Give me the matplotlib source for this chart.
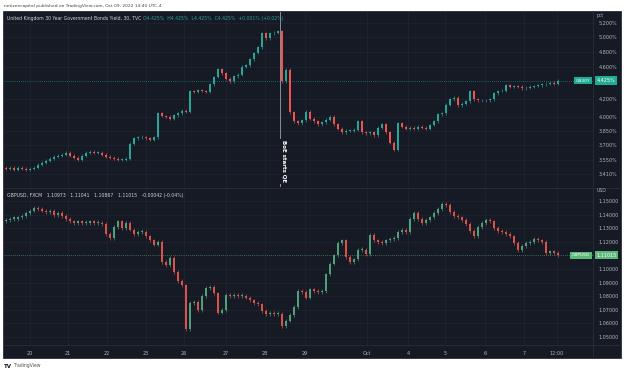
import numpy as np
import matplotlib.pyplot as plt
import matplotlib.transforms as mtransforms
from matplotlib.patches import Rectangle
from matplotlib.lines import Line2D
from matplotlib.ticker import FixedLocator, NullLocator, FuncFormatter

# UK 30Y gilt yield, 30 min candles (closes, % ) sampled across the chart
gilt_first_open = 3.47
gilt_close = [
    3.46, 3.47, 3.45, 3.47, 3.46, 3.45, 3.46, 3.47, 3.50, 3.52,
    3.54, 3.56, 3.58, 3.59, 3.60, 3.62, 3.59, 3.57, 3.55, 3.59,
    3.62, 3.63, 3.62, 3.62, 3.60, 3.58, 3.57, 3.56, 3.55, 3.55,
    3.56, 3.71, 3.77, 3.78, 3.78, 3.77, 3.75, 3.78, 4.04, 4.01,
    4.00, 3.98, 4.02, 4.04, 4.07, 4.06, 4.30, 4.29, 4.31, 4.30,
    4.29, 4.38, 4.47, 4.57, 4.52, 4.45, 4.42, 4.48, 4.50, 4.60,
    4.62, 4.70, 4.78, 4.86, 5.05, 4.98, 5.05, 5.06, 5.08, 4.42,
    4.56, 4.05, 3.95, 3.93, 3.96, 4.06, 3.98, 3.95, 3.92, 3.94,
    3.97, 4.00, 3.92, 3.87, 3.83, 3.85, 3.85, 3.86, 3.95, 3.83,
    3.82, 3.83, 3.80, 3.88, 3.92, 3.83, 3.72, 3.65, 3.93, 3.89,
    3.87, 3.88, 3.87, 3.89, 3.88, 3.87, 3.91, 3.95, 4.03, 4.04,
    4.14, 4.20, 4.22, 4.13, 4.15, 4.18, 4.30, 4.20, 4.19, 4.19,
    4.19, 4.20, 4.27, 4.30, 4.30, 4.37, 4.35, 4.36, 4.35, 4.33,
    4.34, 4.35, 4.36, 4.37, 4.38, 4.39, 4.40, 4.39, 4.425,
]

# GBPUSD, FXCM closes on the same bars
cable_first_open = 1.1355
cable_close = [
    1.136, 1.137, 1.137, 1.138, 1.139, 1.141, 1.143, 1.145, 1.144, 1.143,
    1.142, 1.143, 1.140, 1.141, 1.139, 1.137, 1.135, 1.134, 1.135, 1.134,
    1.134, 1.135, 1.134, 1.134, 1.133, 1.126, 1.123, 1.131, 1.135, 1.130,
    1.134, 1.129, 1.126, 1.127, 1.127, 1.124, 1.121, 1.118, 1.120, 1.105,
    1.103, 1.108, 1.098, 1.091, 1.088, 1.056, 1.075, 1.076, 1.070, 1.080,
    1.086, 1.087, 1.082, 1.068, 1.070, 1.081, 1.080, 1.081, 1.080, 1.080,
    1.079, 1.077, 1.075, 1.074, 1.069, 1.067, 1.068, 1.067, 1.067, 1.058,
    1.062, 1.066, 1.072, 1.084, 1.083, 1.079, 1.085, 1.084, 1.083, 1.084,
    1.096, 1.104, 1.110, 1.119, 1.121, 1.109, 1.105, 1.107, 1.114, 1.114,
    1.111, 1.125, 1.121, 1.120, 1.119, 1.121, 1.122, 1.123, 1.127, 1.129,
    1.127, 1.137, 1.141, 1.137, 1.134, 1.136, 1.138, 1.141, 1.144, 1.148,
    1.147, 1.142, 1.139, 1.138, 1.136, 1.133, 1.128, 1.124, 1.131, 1.134,
    1.136, 1.135, 1.130, 1.128, 1.127, 1.126, 1.124, 1.119, 1.114, 1.117,
    1.119, 1.120, 1.122, 1.121, 1.120, 1.112, 1.113, 1.112, 1.11015,
]

gilt_ticks = [5.2, 5.0, 4.8, 4.6, 4.2, 4.0, 3.85, 3.7, 3.55, 3.41]
cable_ticks = [1.15, 1.14, 1.13, 1.12, 1.10, 1.09, 1.08, 1.07, 1.06, 1.05]
day_labels = ['20', '21', '22', '23', '26', '27', '28', '29', 'Oct', '4', '5', '6', '7', '12:00']
day_bars = [6, 15.5, 25.25, 35, 44.5, 55, 64.75, 74.75, 90.25, 100.5, 109.75, 119.75, 129.5, 137.75]
qe_bar = 68.5

BG = '#161a25'
GRID = '#212532'
SEP = '#2a2e39'
TXT = '#b2b5be'
UP, DOWN = '#26a69a', '#ef5350'
UP2, DOWN2 = '#4f9f7c', '#d9534a'

W, H = 624, 373


def box(x0, y0, x1, y1):
    return [x0 / W, 1 - y1 / H, (x1 - x0) / W, (y1 - y0) / H]


def candles(ax, first_open, close, up, down, wick):
    close = np.asarray(close, dtype=float)
    open_ = np.r_[first_open, close[:-1]]
    x = np.arange(len(close))
    colors = np.where(close >= open_, up, down)
    lo = np.minimum(open_, close)
    hi = np.maximum(np.maximum(open_, close), lo * 1.0008)
    ax.vlines(x, lo * (1 - wick), hi * (1 + wick), colors=colors, lw=0.45, zorder=3)
    ax.bar(x, hi - lo, bottom=lo, width=0.58, color=colors, linewidth=0, zorder=4)


def style(ax, ticks, fmt, ylim, log=False):
    ax.set_facecolor(BG)
    for s in ax.spines.values():
        s.set_visible(False)
    if log:
        ax.set_yscale('log')
    ax.set_ylim(*ylim)
    ax.set_xlim(-0.5, 146.75)
    ax.yaxis.set_major_locator(FixedLocator(ticks))
    ax.yaxis.set_minor_locator(NullLocator())
    ax.yaxis.set_major_formatter(FuncFormatter(lambda v, p: fmt.format(v)))
    ax.yaxis.tick_right()
    ax.tick_params(axis='y', length=0, pad=4, labelsize=3.5, labelcolor=TXT)
    ax.set_xticks(day_bars)
    ax.tick_params(axis='x', length=0, labelbottom=False)
    ax.grid(True, color=GRID, lw=0.5, zorder=0)


def last_price(ax, value, text, name, color):
    tr = mtransforms.blended_transform_factory(ax.transAxes, ax.transData)
    ax.axhline(value, color=color, lw=0.5, ls=(0, (1, 2)), zorder=2)
    ax.text(1.006, value, text, transform=tr, ha='left', va='center', fontsize=3.5,
            color='white', clip_on=False, zorder=6,
            bbox=dict(boxstyle='square,pad=0.35', fc=color, ec='none'))
    ax.text(0.995, value, name, transform=tr, ha='right', va='center', fontsize=3.2,
            color='white', zorder=6,
            bbox=dict(boxstyle='square,pad=0.35', fc=color, ec='none'))


fig = plt.figure(figsize=(W / 100, H / 100), dpi=100)
fig.patch.set_facecolor('white')
fig.add_artist(Rectangle((3 / W, 1 - 358 / H), 618 / W, 347 / H, transform=fig.transFigure,
                         fc=BG, ec=SEP, lw=0.6, zorder=-10))

ax1 = fig.add_axes(box(4, 12, 593, 187))
ax2 = fig.add_axes(box(4, 188, 593, 345))

style(ax1, gilt_ticks, '{:.3f}%', (3.289, 5.36), log=True)
style(ax2, cable_ticks, '{:.5f}', (1.0441, 1.1596))
ax2.set_xticklabels(day_labels)
ax2.tick_params(axis='x', labelbottom=True, labelsize=3.5, labelcolor=TXT, pad=4)

candles(ax1, gilt_first_open, gilt_close, UP, DOWN, 0.004)
candles(ax2, cable_first_open, cable_close, UP2, DOWN2, 0.0012)

last_price(ax1, gilt_close[-1], '{:.3f}%'.format(gilt_close[-1]), 'GB30Y', '#22ab94')
last_price(ax2, cable_close[-1], '{:.5f}'.format(cable_close[-1]), 'GBPUSD', '#5cb87a')

# BoE event marker
ax1.axvline(qe_bar, color='#8a8e99', lw=0.7, zorder=5)
ax1.text(qe_bar + 0.9, 3.33, 'BoE starts QE', rotation=270, ha='center', va='bottom',
         fontsize=4, fontweight='bold', color='white', zorder=7,
         bbox=dict(boxstyle='square,pad=0.2', fc=BG, ec='none'))

# pane separators
for xs, ys in [((3, 621), (187.5, 187.5)), ((3, 621), (345, 345)), ((593, 593), (11, 358))]:
    fig.add_artist(Line2D([x / W for x in xs], [1 - y / H for y in ys], color=SEP, lw=0.6))

# legends
ax1.text(0.005, 0.975, 'United Kingdom 30 Year Government Bonds Yield, 30, TVC', transform=ax1.transAxes,
         fontsize=3.3, color='#d1d4dc', va='top', ha='left')
ax1.text(0.236, 0.975, 'O4.425%  H4.425%  L4.425%  C4.425%  +0.001% (+0.02%)',
         transform=ax1.transAxes, fontsize=3.3, color='#26a69a', va='top', ha='left')
ax2.text(0.005, 0.965, 'GBPUSD, FXCM   1.10973   1.11041   1.10867   1.11015   -0.00042 (-0.04%)',
         transform=ax2.transAxes, fontsize=3.3, color='#d1d4dc', va='top', ha='left')

fig.text(597 / W, 1 - 15 / H, 'pct', fontsize=3.3, color=TXT, va='center')
fig.text(597 / W, 1 - 191 / H, 'USD', fontsize=3.3, color=TXT, va='center')

fig.text(4 / W, 1 - 5.5 / H, 'netizencapital published on TradingView.com, Oct 09, 2022 14:40 UTC-4',
         fontsize=3.2, color='#444444', va='center')
fig.text(4 / W, 1 - 366 / H, 'TV', fontsize=4, fontweight='bold', color='#131722', va='center')
fig.text(13 / W, 1 - 366 / H, 'TradingView', fontsize=3.3, color='#555555', va='center')

fig.savefig('out.png', dpi=100, facecolor='white')
